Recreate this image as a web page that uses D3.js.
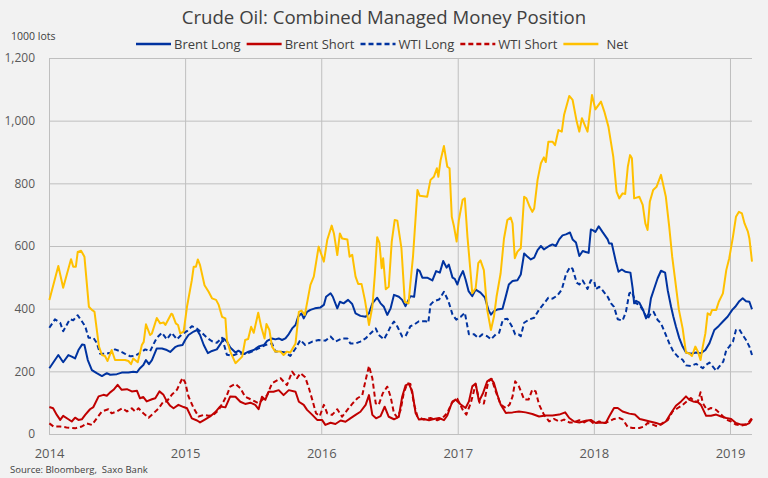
<!DOCTYPE html>
<html>
<head>
<meta charset="utf-8">
<script src="https://cdn.jsdelivr.net/npm/d3@7"></script>
<style>
  body { margin: 0; background: #f2f2f2; }
  svg { display: block; }
  text { font-family: "Open Sans", "Noto Sans", sans-serif; fill: #404040; }
</style>
</head>
<body>
<div id="chart"></div>
<script>
// Time is years since 1 Jan 2014, values are thousand lots
const brentLong = [[0.002,210],[0.068,252],[0.105,229],[0.142,252],[0.167,247],[0.191,241],[0.215,268],[0.245,286],[0.260,284],[0.285,236],[0.314,204],[0.351,194],[0.388,185],[0.424,194],[0.449,189],[0.498,191],[0.535,196],[0.583,196],[0.620,199],[0.645,197],[0.669,210],[0.693,220],[0.713,236],[0.735,223],[0.755,236],[0.792,273],[0.829,273],[0.865,268],[0.890,262],[0.926,277],[0.951,282],[0.980,284],[1.000,300],[1.024,316],[1.061,327],[1.086,332],[1.110,316],[1.135,284],[1.167,258],[1.196,265],[1.233,270],[1.257,286],[1.282,305],[1.307,295],[1.331,276],[1.368,260],[1.392,266],[1.429,255],[1.465,263],[1.502,268],[1.539,279],[1.576,284],[1.601,297],[1.638,305],[1.662,302],[1.686,305],[1.711,300],[1.735,305],[1.760,319],[1.785,337],[1.809,348],[1.829,374],[1.853,385],[1.870,369],[1.895,390],[1.919,396],[1.951,401],[1.993,404],[2.017,412],[2.035,438],[2.066,449],[2.083,438],[2.115,401],[2.135,422],[2.164,417],[2.196,428],[2.226,415],[2.250,385],[2.287,377],[2.324,374],[2.348,385],[2.373,417],[2.410,435],[2.434,417],[2.458,406],[2.483,380],[2.507,401],[2.532,444],[2.568,438],[2.593,428],[2.618,408],[2.654,440],[2.679,438],[2.704,525],[2.721,520],[2.740,499],[2.777,499],[2.814,490],[2.843,520],[2.868,515],[2.895,552],[2.919,531],[2.936,541],[2.961,499],[2.980,495],[2.998,477],[3.015,499],[3.039,520],[3.059,493],[3.079,456],[3.108,440],[3.132,461],[3.169,451],[3.201,435],[3.226,397],[3.243,381],[3.267,392],[3.292,397],[3.329,400],[3.353,440],[3.377,477],[3.402,488],[3.439,491],[3.463,509],[3.488,576],[3.507,568],[3.537,557],[3.561,563],[3.586,587],[3.610,600],[3.634,589],[3.671,600],[3.696,605],[3.721,600],[3.745,621],[3.770,634],[3.794,637],[3.824,643],[3.843,621],[3.868,611],[3.892,568],[3.917,584],[3.941,581],[3.961,578],[3.978,653],[3.995,650],[4.011,645],[4.035,663],[4.064,645],[4.101,621],[4.113,608],[4.132,608],[4.162,550],[4.182,518],[4.206,525],[4.230,518],[4.267,515],[4.285,465],[4.296,417],[4.309,425],[4.333,419],[4.362,396],[4.382,369],[4.402,385],[4.419,433],[4.443,465],[4.468,497],[4.493,521],[4.524,515],[4.542,459],[4.566,406],[4.583,375],[4.603,343],[4.627,306],[4.652,279],[4.676,260],[4.713,256],[4.750,260],[4.787,258],[4.818,268],[4.848,290],[4.885,332],[4.917,345],[4.946,359],[4.983,375],[5.015,396],[5.039,406],[5.068,424],[5.093,433],[5.118,424],[5.142,422],[5.162,398]];

const brentShort = [[0.002,86],[0.029,82],[0.057,61],[0.081,45],[0.105,58],[0.142,47],[0.167,40],[0.191,52],[0.215,45],[0.240,47],[0.265,61],[0.301,79],[0.326,86],[0.363,120],[0.399,125],[0.424,122],[0.449,133],[0.473,141],[0.505,157],[0.535,141],[0.571,143],[0.608,136],[0.645,138],[0.669,114],[0.693,118],[0.718,104],[0.755,111],[0.779,114],[0.811,136],[0.840,125],[0.865,104],[0.890,90],[0.914,82],[0.951,93],[0.988,86],[1.013,82],[1.049,50],[1.086,43],[1.110,37],[1.147,47],[1.184,56],[1.221,70],[1.257,88],[1.294,85],[1.331,120],[1.368,119],[1.404,103],[1.441,96],[1.478,100],[1.515,93],[1.539,79],[1.564,119],[1.588,109],[1.613,135],[1.649,135],[1.686,140],[1.723,124],[1.760,140],[1.809,135],[1.833,103],[1.870,93],[1.895,77],[1.932,61],[1.968,45],[2.005,45],[2.029,29],[2.066,36],[2.103,32],[2.140,43],[2.176,39],[2.213,50],[2.250,61],[2.287,71],[2.324,93],[2.348,124],[2.373,61],[2.402,50],[2.434,57],[2.465,87],[2.495,55],[2.532,47],[2.568,55],[2.593,119],[2.618,155],[2.642,160],[2.667,136],[2.691,67],[2.715,46],[2.752,48],[2.789,44],[2.826,48],[2.863,51],[2.899,44],[2.924,59],[2.956,99],[2.985,110],[3.022,94],[3.059,83],[3.083,104],[3.108,152],[3.132,161],[3.157,104],[3.186,131],[3.218,168],[3.243,176],[3.267,163],[3.292,126],[3.316,94],[3.353,67],[3.402,69],[3.451,72],[3.500,69],[3.549,64],[3.598,56],[3.647,59],[3.696,59],[3.745,62],[3.789,69],[3.818,51],[3.855,40],[3.892,37],[3.941,42],[3.978,45],[4.015,35],[4.051,37],[4.088,35],[4.113,56],[4.149,83],[4.174,83],[4.211,72],[4.260,65],[4.301,62],[4.338,48],[4.375,44],[4.412,40],[4.456,35],[4.493,30],[4.529,40],[4.566,67],[4.603,90],[4.640,104],[4.676,120],[4.701,109],[4.728,104],[4.763,101],[4.787,93],[4.824,58],[4.860,58],[4.897,62],[4.934,56],[4.971,51],[5.007,48],[5.044,35],[5.081,30],[5.118,30],[5.142,35],[5.162,48]];

const wtiLong = [[0.002,339],[0.044,366],[0.081,355],[0.105,328],[0.154,366],[0.179,363],[0.211,379],[0.240,360],[0.265,344],[0.289,307],[0.326,307],[0.351,291],[0.375,256],[0.412,256],[0.449,259],[0.485,270],[0.522,264],[0.559,256],[0.596,248],[0.632,250],[0.669,259],[0.706,270],[0.743,264],[0.767,286],[0.792,307],[0.829,323],[0.865,302],[0.902,323],[0.939,302],[0.976,318],[1.013,328],[1.049,344],[1.086,336],[1.123,323],[1.160,307],[1.196,296],[1.233,291],[1.270,307],[1.307,253],[1.343,250],[1.392,257],[1.441,255],[1.490,263],[1.539,273],[1.588,284],[1.638,289],[1.662,263],[1.699,263],[1.735,260],[1.772,249],[1.809,273],[1.846,300],[1.882,284],[1.932,295],[1.980,300],[2.029,298],[2.066,311],[2.103,295],[2.152,305],[2.189,305],[2.213,289],[2.250,289],[2.287,295],[2.324,305],[2.360,321],[2.397,337],[2.421,316],[2.458,302],[2.483,321],[2.507,343],[2.532,359],[2.557,343],[2.593,311],[2.618,312],[2.654,344],[2.679,349],[2.715,360],[2.765,360],[2.785,355],[2.801,413],[2.826,424],[2.863,429],[2.899,454],[2.932,424],[2.961,381],[2.990,365],[3.022,374],[3.054,387],[3.083,318],[3.120,318],[3.152,307],[3.182,318],[3.218,312],[3.243,302],[3.279,318],[3.304,323],[3.333,365],[3.365,368],[3.397,344],[3.421,318],[3.446,318],[3.463,312],[3.488,355],[3.524,365],[3.561,371],[3.598,397],[3.634,416],[3.667,435],[3.696,432],[3.733,442],[3.765,461],[3.794,509],[3.824,533],[3.843,527],[3.873,483],[3.892,477],[3.917,490],[3.954,463],[3.978,491],[4.002,488],[4.015,462],[4.039,470],[4.064,459],[4.101,438],[4.125,417],[4.149,406],[4.174,366],[4.211,362],[4.235,390],[4.260,449],[4.279,454],[4.309,417],[4.333,412],[4.358,396],[4.395,366],[4.412,380],[4.439,390],[4.468,364],[4.493,353],[4.529,316],[4.554,290],[4.583,263],[4.615,247],[4.652,237],[4.676,219],[4.713,217],[4.750,224],[4.774,217],[4.799,210],[4.824,221],[4.848,228],[4.873,215],[4.897,202],[4.921,215],[4.951,231],[4.971,268],[4.995,279],[5.020,295],[5.044,332],[5.068,334],[5.093,316],[5.118,300],[5.142,279],[5.162,252]];

const wtiShort = [[0.002,34],[0.032,24],[0.081,24],[0.130,21],[0.191,18],[0.240,24],[0.277,34],[0.314,29],[0.351,50],[0.388,72],[0.436,79],[0.461,66],[0.498,72],[0.539,82],[0.571,72],[0.608,82],[0.632,72],[0.657,82],[0.693,66],[0.730,52],[0.767,66],[0.804,82],[0.840,104],[0.865,104],[0.902,125],[0.939,141],[0.980,179],[1.000,165],[1.024,120],[1.061,82],[1.098,56],[1.135,61],[1.171,58],[1.208,61],[1.245,77],[1.282,104],[1.307,124],[1.331,151],[1.368,160],[1.404,146],[1.441,119],[1.490,109],[1.539,98],[1.566,109],[1.601,124],[1.638,162],[1.699,178],[1.748,156],[1.785,199],[1.821,178],[1.846,194],[1.882,181],[1.907,146],[1.932,109],[1.961,66],[1.988,57],[2.017,93],[2.042,66],[2.079,61],[2.115,79],[2.152,55],[2.189,77],[2.226,96],[2.263,114],[2.299,124],[2.324,172],[2.348,217],[2.373,178],[2.397,98],[2.421,93],[2.451,130],[2.483,151],[2.507,119],[2.532,66],[2.557,53],[2.581,77],[2.605,130],[2.630,162],[2.654,160],[2.679,94],[2.704,56],[2.752,46],[2.801,51],[2.851,44],[2.888,51],[2.924,67],[2.961,104],[2.998,112],[3.035,78],[3.064,62],[3.096,99],[3.132,158],[3.162,99],[3.193,97],[3.226,168],[3.250,176],[3.274,142],[3.316,94],[3.353,83],[3.382,94],[3.402,120],[3.421,168],[3.451,152],[3.488,110],[3.520,110],[3.549,142],[3.574,136],[3.598,94],[3.634,62],[3.671,40],[3.708,48],[3.745,40],[3.782,46],[3.818,37],[3.855,37],[3.892,44],[3.929,37],[3.965,46],[4.002,32],[4.039,40],[4.076,35],[4.113,40],[4.149,48],[4.186,51],[4.213,46],[4.248,22],[4.285,19],[4.333,19],[4.370,24],[4.395,35],[4.432,30],[4.468,24],[4.505,35],[4.542,44],[4.579,72],[4.615,83],[4.652,93],[4.689,107],[4.713,115],[4.738,104],[4.765,104],[4.782,133],[4.799,99],[4.829,77],[4.860,83],[4.897,77],[4.934,62],[4.971,46],[5.007,40],[5.044,30],[5.081,27],[5.118,30],[5.142,40],[5.162,51]];

const net = [[0.002,428],[0.068,536],[0.105,467],[0.162,558],[0.179,534],[0.196,534],[0.211,581],[0.235,585],[0.260,566],[0.294,406],[0.314,396],[0.333,390],[0.368,279],[0.388,252],[0.412,249],[0.429,233],[0.461,268],[0.485,236],[0.559,236],[0.583,233],[0.603,223],[0.620,241],[0.652,229],[0.682,284],[0.696,294],[0.711,350],[0.743,316],[0.755,321],[0.792,370],[0.816,353],[0.840,356],[0.853,348],[0.897,384],[0.907,382],[0.932,353],[0.946,348],[0.963,321],[0.988,327],[1.013,406],[1.049,491],[1.061,534],[1.079,534],[1.093,557],[1.110,539],[1.142,475],[1.171,454],[1.196,433],[1.226,428],[1.245,412],[1.270,374],[1.294,369],[1.307,300],[1.331,263],[1.368,226],[1.417,247],[1.441,300],[1.461,303],[1.485,342],[1.502,323],[1.535,387],[1.559,342],[1.583,305],[1.596,351],[1.618,332],[1.638,279],[1.662,263],[1.699,263],[1.723,252],[1.748,263],[1.772,260],[1.809,289],[1.833,390],[1.853,394],[1.877,380],[1.919,476],[1.943,502],[1.980,598],[2.017,550],[2.042,619],[2.074,665],[2.091,640],[2.115,571],[2.135,640],[2.152,624],[2.189,621],[2.206,566],[2.226,572],[2.250,502],[2.270,479],[2.294,479],[2.318,428],[2.348,348],[2.373,406],[2.392,513],[2.410,628],[2.426,610],[2.441,529],[2.454,561],[2.471,462],[2.495,470],[2.515,614],[2.537,683],[2.557,681],[2.588,593],[2.613,422],[2.638,417],[2.654,481],[2.671,566],[2.704,779],[2.721,760],[2.777,757],[2.801,811],[2.826,821],[2.846,848],[2.858,821],[2.875,874],[2.899,919],[2.924,853],[2.941,848],[2.956,693],[2.973,662],[2.993,614],[3.010,683],[3.035,747],[3.054,752],[3.071,630],[3.090,534],[3.108,449],[3.132,465],[3.152,545],[3.169,554],[3.193,523],[3.218,396],[3.243,332],[3.267,374],[3.285,438],[3.316,513],[3.340,624],[3.365,683],[3.390,691],[3.402,672],[3.419,561],[3.439,582],[3.463,593],[3.488,757],[3.505,752],[3.529,725],[3.549,709],[3.561,720],[3.586,811],[3.610,864],[3.634,883],[3.647,868],[3.667,933],[3.696,933],[3.716,922],[3.740,970],[3.765,965],[3.782,1018],[3.818,1079],[3.843,1066],[3.873,997],[3.892,965],[3.912,1008],[3.936,982],[3.954,965],[3.985,1082],[4.010,1036],[4.051,1061],[4.076,1029],[4.108,981],[4.142,885],[4.167,773],[4.186,752],[4.211,768],[4.230,766],[4.248,853],[4.265,890],[4.279,880],[4.296,752],[4.333,757],[4.358,731],[4.377,672],[4.395,651],[4.412,741],[4.436,779],[4.461,789],[4.493,827],[4.529,757],[4.554,662],[4.574,566],[4.598,491],[4.623,396],[4.652,337],[4.676,260],[4.701,257],[4.721,249],[4.745,279],[4.763,263],[4.782,236],[4.799,279],[4.818,321],[4.836,385],[4.853,380],[4.868,396],[4.897,396],[4.917,422],[4.946,449],[4.971,523],[4.995,561],[5.020,630],[5.044,693],[5.064,709],[5.088,704],[5.105,672],[5.130,646],[5.142,624],[5.162,550]];

const yTicks = [0, 200, 400, 600, 800, 1000, 1200];

const series = [
  { name: 'Brent Long',  data: brentLong,  color: '#0033a0', dash: null },
  { name: 'Brent Short', data: brentShort, color: '#c00000', dash: null },
  { name: 'WTI Long',    data: wtiLong,    color: '#0033a0', dash: '5,3' },
  { name: 'WTI Short',   data: wtiShort,   color: '#c00000', dash: '5,3' },
  { name: 'Net',         data: net,        color: '#ffc000', dash: null }
];

const width = 768, height = 478;
const margin = { top: 58, right: 16, bottom: 44, left: 49 };
const start = new Date(2014, 0, 1);
const toDate = t => d3.timeDay.offset(start, Math.round(t * 365.25));

const svg = d3.select('#chart').append('svg')
  .attr('width', width)
  .attr('height', height)
  .style('background', '#f2f2f2');

const x = d3.scaleTime()
  .domain([start, toDate(5.162)])
  .range([margin.left, width - margin.right]);

const y = d3.scaleLinear()
  .domain([0, 1200])
  .range([height - margin.bottom, margin.top]);

// horizontal gridlines + y labels
const yAxis = svg.append('g')
  .attr('transform', `translate(${margin.left},0)`)
  .call(d3.axisLeft(y)
    .tickValues(yTicks)
    .tickSize(-(width - margin.left - margin.right))
    .tickPadding(14)
    .tickFormat(d3.format(',')));
yAxis.select('.domain').remove();
yAxis.selectAll('line').attr('stroke', '#bfbfbf');
yAxis.selectAll('text').style('font-size', '12px').style('fill', '#595959');

// vertical gridlines + year labels
const xAxis = svg.append('g')
  .attr('transform', `translate(0,${height - margin.bottom})`)
  .call(d3.axisBottom(x)
    .ticks(d3.timeYear.every(1))
    .tickSize(-(height - margin.top - margin.bottom))
    .tickPadding(15)
    .tickFormat(d3.timeFormat('%Y')));
xAxis.select('.domain').remove();
xAxis.selectAll('line').attr('stroke', '#bfbfbf');
xAxis.selectAll('text').style('font-size', '13px').style('fill', '#595959');

// lines
const line = d3.line()
  .x(d => x(toDate(d[0])))
  .y(d => y(d[1]));

svg.append('g').selectAll('path')
  .data(series)
  .join('path')
  .attr('d', d => line(d.data))
  .attr('fill', 'none')
  .attr('stroke', d => d.color)
  .attr('stroke-width', 2)
  .attr('stroke-dasharray', d => d.dash)
  .attr('stroke-linejoin', 'round');

// title
svg.append('text')
  .attr('x', width / 2)
  .attr('y', 24)
  .attr('text-anchor', 'middle')
  .style('font-size', '18.6px')
  .text('Crude Oil: Combined Managed Money Position');

svg.append('text')
  .attr('x', 11)
  .attr('y', 40)
  .style('font-size', '10.5px')
  .text('1000 lots');

// legend, laid out left to right
const legend = svg.append('g').attr('transform', 'translate(136,44)');
let lx = 0;
series.forEach(s => {
  const g = legend.append('g').attr('transform', `translate(${lx},0)`);
  g.append('line')
    .attr('x1', 0).attr('x2', 35)
    .attr('stroke', s.color)
    .attr('stroke-width', 2.5)
    .attr('stroke-dasharray', s.dash);
  const t = g.append('text')
    .attr('x', s.name === 'Net' ? 43 : 38)
    .attr('dy', '0.35em')
    .style('font-size', '13px')
    .text(s.name);
  lx += 38 + t.node().getComputedTextLength() + 6;
});

svg.append('text')
  .attr('x', 10)
  .attr('y', 473)
  .style('font-size', '9.5px')
  .style('white-space', 'pre')
  .text('Source: Bloomberg,  Saxo Bank');
</script>
</body>
</html>
